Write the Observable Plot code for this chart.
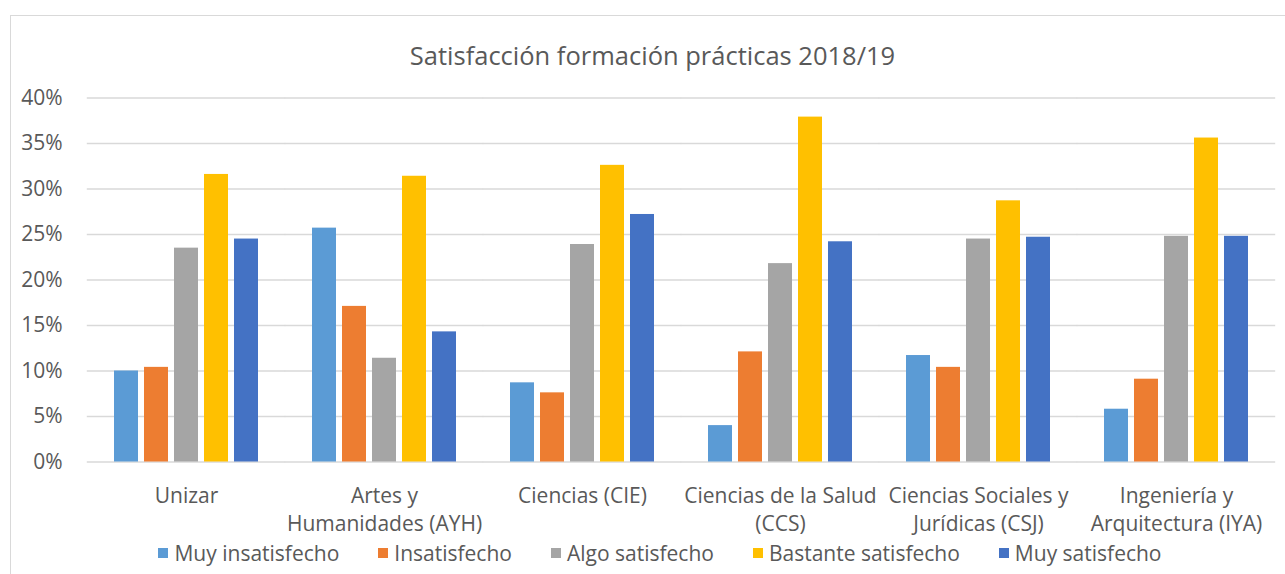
<!DOCTYPE html>
<html><head><meta charset="utf-8">
<script src="https://cdn.jsdelivr.net/npm/d3@7"></script>
<script src="https://cdn.jsdelivr.net/npm/@observablehq/plot@0.6"></script>
<style>
body{margin:0;background:#fff;font-family:"Open Sans",sans-serif;color:#595959;width:1285px;height:574px;overflow:hidden;position:relative;}
#frame{position:absolute;left:10px;top:15px;width:1280px;height:570px;border-left:1px solid #d9d9d9;border-top:1px solid #d9d9d9;}
#title{position:absolute;left:0;width:1305px;top:37px;line-height:36px;text-align:center;font-size:25.5px;color:#595959;}
#chart{position:absolute;left:0;top:80px;}
#legend{position:absolute;top:539px;left:0;width:1320px;height:28px;display:flex;justify-content:center;align-items:center;gap:39px;font-size:21px;color:#595959;}
.item{display:flex;align-items:center;gap:6px;}
.sw{width:10px;height:10px;display:inline-block;}
</style></head>
<body>
<div id="frame"></div>
<div id="title">Satisfacción formación prácticas 2018/19</div>
<div id="chart"></div>
<div id="legend"></div>
<script>
const categories = ["Unizar","Artes y\nHumanidades (AYH)","Ciencias (CIE)","Ciencias de la Salud\n(CCS)","Ciencias Sociales y\nJurídicas (CSJ)","Ingeniería y\nArquitectura (IYA)"];
const series = ["Muy insatisfecho","Insatisfecho","Algo satisfecho","Bastante satisfecho","Muy satisfecho"];
const colors = ["#5B9BD5","#ED7D31","#A5A5A5","#FFC000","#4472C4"];
const muyInsatisfecho = [10.0,25.7,8.7,4.0,11.7,5.8];
const insatisfecho = [10.4,17.1,7.6,12.1,10.4,9.1];
const algoSatisfecho = [23.5,11.4,23.9,21.8,24.5,24.8];
const bastanteSatisfecho = [31.6,31.4,32.6,37.9,28.7,35.6];
const muySatisfecho = [24.5,14.3,27.2,24.2,24.7,24.8];
const yTicks = [0,5,10,15,20,25,30,35,40];

const seriesValues = [muyInsatisfecho,insatisfecho,algoSatisfecho,bastanteSatisfecho,muySatisfecho];
const data = [];
categories.forEach((c,i)=>series.forEach((s,j)=>data.push({category:c,series:s,value:seriesValues[j][i]})));

const chart = Plot.plot({
  width:1285,height:460,
  marginTop:17.5,marginBottom:78.5,marginLeft:85,marginRight:9,
  style:{color:"#595959",fontFamily:"'Open Sans',sans-serif",background:"transparent",overflow:"visible"},
  fx:{domain:categories,paddingInner:0.264,paddingOuter:0.132,label:null,axis:null},
  x:{domain:series,paddingInner:0.21,paddingOuter:0,axis:null},
  y:{domain:[0,40],label:null,axis:null},
  color:{domain:series,range:colors},
  marks:[
    Plot.ruleY(yTicks,{stroke:"#d9d9d9",strokeWidth:1.5,insetLeft:-26.2,insetRight:-26.2}),
    Plot.axisY(yTicks,{tickSize:0,tickPadding:51,tickFormat:d=>d+"%",fontSize:21,label:null,anchor:"left"}),
    Plot.barY(data,{fx:"category",x:"series",y:"value",fill:"series"}),
    Plot.axisFx({anchor:"bottom",tickSize:0,tickPadding:21.5,fontSize:21,lineHeight:1.33,label:null})
  ]
});
document.getElementById("chart").appendChild(chart);

const legend = document.getElementById("legend");
series.forEach((s,i)=>{
  const it=document.createElement("div");it.className="item";
  const sw=document.createElement("span");sw.className="sw";sw.style.background=colors[i];
  const t=document.createElement("span");t.textContent=s;
  it.appendChild(sw);it.appendChild(t);legend.appendChild(it);
});
</script>
</body></html>
